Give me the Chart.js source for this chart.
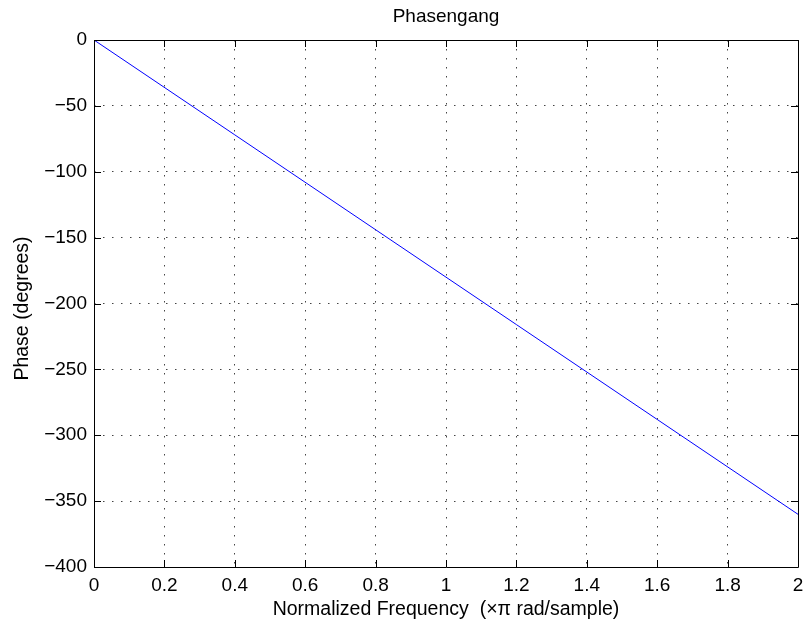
<!DOCTYPE html>
<html>
<head>
<meta charset="utf-8">
<script src="https://cdn.jsdelivr.net/npm/chart.js@4"></script>
<style>
  html, body { margin: 0; padding: 0; background: #fff; }
  #wrap { width: 803px; height: 621px; position: relative; }
</style>
</head>
<body>
<div id="wrap"><canvas id="phaseChart"></canvas></div>
<script>
// Phase response data
const freq = [0, 0.4, 0.8, 1.2, 1.6, 2];
const phase = [0, -72, -144, -216, -288, -360];

const xTickLabels = ['0', '0.2', '0.4', '0.6', '0.8', '1', '1.2', '1.4', '1.6', '1.8', '2'];
const yTickLabels = ['\u2212400', '\u2212350', '\u2212300', '\u2212250', '\u2212200', '\u2212150', '\u2212100', '\u221250', '0'];

const chartTitle = 'Phasengang';
const xTitle = 'Normalized Frequency  (\u00d7\u03c0 rad/sample)';
const yTitle = 'Phase (degrees)';

const fontFamily = '"Liberation Sans", Arial, Helvetica, sans-serif';
const fontSize = 19;
const labelSize = 19.5;

// box, inward ticks, title and y label, matlab style
const matlabFrame = {
    id: 'matlabFrame',
    afterDraw(chart) {
        const ctx = chart.ctx;
        const area = chart.chartArea;
        const xs = chart.scales.x;
        const ys = chart.scales.y;
        const tl = 7;
        ctx.save();
        ctx.strokeStyle = '#000';
        ctx.lineWidth = 1;
        ctx.beginPath();
        ctx.rect(Math.round(area.left) + 0.5, Math.round(area.top) + 0.5,
            Math.round(area.right - area.left), Math.round(area.bottom - area.top));
        xs.ticks.forEach(t => {
            const px = Math.round(xs.getPixelForValue(t.value)) + 0.5;
            ctx.moveTo(px, area.bottom); ctx.lineTo(px, area.bottom - tl);
            ctx.moveTo(px, area.top); ctx.lineTo(px, area.top + tl);
        });
        ys.ticks.forEach(t => {
            const py = Math.round(ys.getPixelForValue(t.value)) + 0.5;
            ctx.moveTo(area.left, py); ctx.lineTo(area.left + tl, py);
            ctx.moveTo(area.right, py); ctx.lineTo(area.right - tl, py);
        });
        ctx.stroke();

        ctx.fillStyle = '#000';
        ctx.font = fontSize + 'px ' + fontFamily;
        ctx.textAlign = 'center';
        ctx.textBaseline = 'middle';
        ctx.fillText(chartTitle, (area.left + area.right) / 2, 16.5);

        // y label, a bit below the axis centre like the original
        ctx.font = labelSize + 'px ' + fontFamily;
        ctx.translate(22.5, (area.top + area.bottom) / 2 + 5);
        ctx.rotate(-Math.PI / 2);
        ctx.fillText(yTitle, 0, 0);
        ctx.restore();
    }
};

const ctx = document.getElementById('phaseChart').getContext('2d');
const phaseChart = new Chart(ctx, {
    type: 'line',
    data: {
        datasets: [{
            data: freq.map((f, i) => ({ x: f, y: phase[i] })),
            borderColor: '#0000ff',
            borderWidth: 1,
            pointRadius: 0,
            fill: false,
            tension: 0
        }]
    },
    options: {
        responsive: true,
        maintainAspectRatio: false,
        animation: false,
        devicePixelRatio: 1,
        layout: {
            padding: { left: 0, right: 5, top: 40, bottom: 0 }
        },
        scales: {
            x: {
                type: 'linear',
                min: 0,
                max: 2,
                ticks: {
                    stepSize: 0.2,
                    color: '#000',
                    padding: 7,
                    maxRotation: 0,
                    autoSkip: false,
                    font: { family: fontFamily, size: fontSize },
                    callback: (value, index) => xTickLabels[index]
                },
                grid: {
                    color: '#444',
                    lineWidth: 1,
                    drawTicks: false
                },
                border: { display: false, dash: [1.5, 7.5] },
                title: {
                    display: true,
                    text: xTitle,
                    color: '#000',
                    font: { family: fontFamily, size: labelSize },
                    padding: { top: 0, bottom: 0 }
                },
                afterFit: scale => {
                    scale.height = 54;
                    scale.paddingLeft = 0;
                    scale.paddingRight = 0;
                }
            },
            y: {
                type: 'linear',
                min: -400,
                max: 0,
                ticks: {
                    stepSize: 50,
                    color: '#000',
                    padding: 7,
                    autoSkip: false,
                    font: { family: fontFamily, size: fontSize },
                    callback: (value, index) => yTickLabels[index]
                },
                grid: {
                    color: '#444',
                    lineWidth: 1,
                    drawTicks: false
                },
                border: { display: false, dash: [1.5, 7.5] },
                afterFit: scale => {
                    scale.width = 94;
                    scale.paddingTop = 0;
                    scale.paddingBottom = 0;
                }
            }
        },
        plugins: {
            legend: { display: false },
            title: { display: false },
            tooltip: { enabled: false }
        }
    },
    plugins: [matlabFrame]
});
</script>
</body>
</html>
